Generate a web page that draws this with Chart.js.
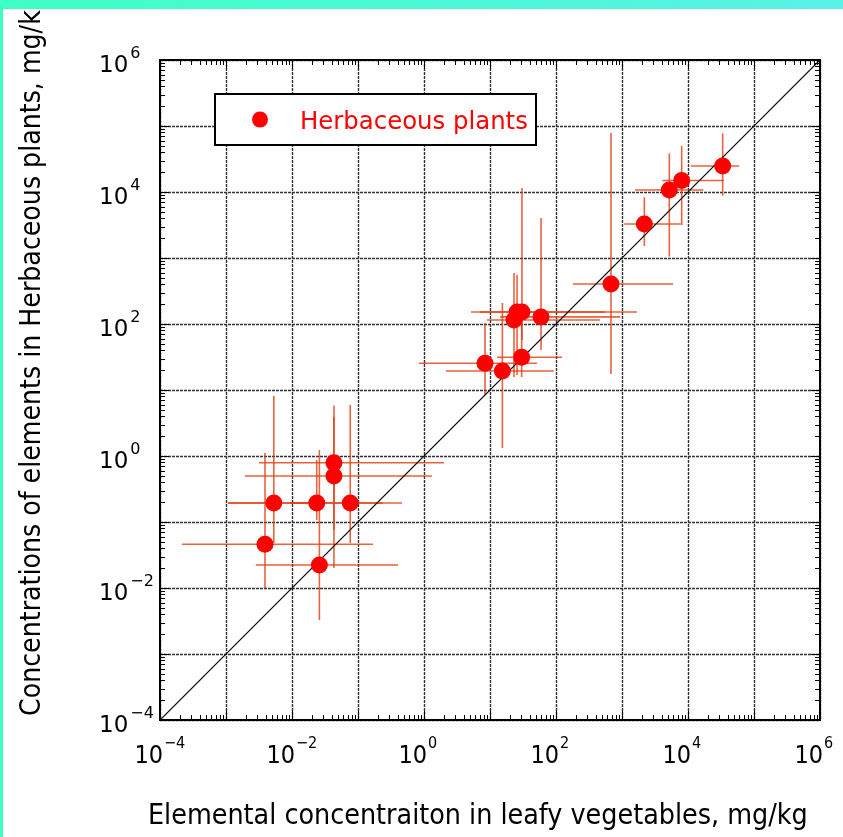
<!DOCTYPE html>
<html>
<head>
<meta charset="utf-8">
<script src="https://cdn.jsdelivr.net/npm/chart.js@4.4.0/dist/chart.umd.min.js"></script>
<style>
  html, body { margin: 0; padding: 0; background: #fff; }
  canvas { display: block; }
</style>
</head>
<body>
<canvas id="myChart" width="843" height="837"></canvas>
<script>
// values, mg/kg
const xVals  = [0.0039, 0.0053, 0.0237, 0.026, 0.0432, 0.0432, 0.0763, 8.4, 15.4, 23.1, 25.7, 30.5, 30.2, 59.3, 681, 2180, 5210, 8020, 33500];
const yVals  = [0.046, 0.194, 0.194, 0.0223, 0.792, 0.498, 0.194, 25.4, 19.4, 115, 152, 152, 31.3, 128, 403, 3280, 10700, 14900, 24800];
const xLow   = [0.000215, 0.00107, 0.00107, 0.00282, 0.00316, 0.00194, 0.00933, 0.84, 2.15, 9.0, 5.15, 7.05, 12.8, 14.2, 181, 1080, 1570, 4080, 11100];
const xHigh  = [0.169, 0.0266, 0.239, 0.404, 2.01, 1.32, 0.464, 51.5, 93, 464, 1690, 553, 123, 933, 5930, 7750, 17100, 35100, 59300];
const yLow   = [0.01, 0.048, 0.107, 0.00327, 0.0201, 0.0757, 0.048, 8.4, 1.32, 15.7, 16.9, 57, 15.7, 40.4, 17.5, 1520, 1050, 3160, 8790];
const yHigh  = [1.11, 8.1, 0.87, 1.23, 5.8, 3.9, 5.93, 104, 208, 593, 553, 11500, 123, 4040, 78400, 8300, 38500, 49800, 77500];

const decades = [1e-4, 1e-3, 1e-2, 1e-1, 1, 1e1, 1e2, 1e3, 1e4, 1e5, 1e6];
const tickValues = [1e-4, 1e-2, 1, 1e2, 1e4, 1e6];
const tickExponents = ['\u22124', '\u22122', '0', '2', '4', '6'];
const lineEnds = [1e-4, 1e6];

const legendLabel = 'Herbaceous plants';
const xTitle = 'Elemental concentraiton in leafy vegetables, mg/kg';
const yTitle = 'Concentrations of elements in Herbaceous plants, mg/kg';

function fitSize(ctx, text, family, width) {
    ctx.font = '20px ' + family;
    return 20 * width / ctx.measureText(text).width;
}

const decor = {
    id: 'decor',
    beforeDraw(chart) {
        const ctx = chart.ctx;
        ctx.save();
        ctx.fillStyle = '#fff';
        ctx.fillRect(0, 0, chart.width, chart.height);
        ctx.restore();
    },
    beforeDatasetsDraw(chart) {
        const { ctx, chartArea: a, scales: { x, y } } = chart;
        ctx.save();
        // dense dotted grid at every decade
        ctx.strokeStyle = '#333';
        ctx.lineWidth = 1.4;
        ctx.setLineDash([3, 1]);
        decades.forEach(function (v) {
            const px = Math.round(x.getPixelForValue(v)) + 0.5;
            const py = Math.round(y.getPixelForValue(v)) + 0.5;
            ctx.beginPath();
            ctx.moveTo(px, a.top); ctx.lineTo(px, a.bottom);
            ctx.moveTo(a.left, py); ctx.lineTo(a.right, py);
            ctx.stroke();
        });
        ctx.setLineDash([]);
        // error bars
        ctx.strokeStyle = 'rgba(226,60,14,0.8)';
        ctx.lineWidth = 1.6;
        for (let i = 0; i < xVals.length; i++) {
            const px = x.getPixelForValue(xVals[i]);
            const py = y.getPixelForValue(yVals[i]);
            ctx.beginPath();
            ctx.moveTo(x.getPixelForValue(xLow[i]), py);
            ctx.lineTo(x.getPixelForValue(xHigh[i]), py);
            ctx.stroke();
            ctx.beginPath();
            ctx.moveTo(px, y.getPixelForValue(yLow[i]));
            ctx.lineTo(px, y.getPixelForValue(yHigh[i]));
            ctx.stroke();
        }
        ctx.restore();
    },
    afterDraw(chart) {
        const { ctx, chartArea: a, scales: { x, y } } = chart;
        ctx.save();

        // frame
        ctx.strokeStyle = '#000';
        ctx.lineWidth = 2;
        ctx.strokeRect(a.left, a.top, a.right - a.left, a.bottom - a.top);

        // inward ticks on all four sides
        ctx.lineWidth = 1;
        for (let d = 0; d < decades.length; d++) {
            for (let k = 1; k <= 9; k++) {
                if (d === decades.length - 1 && k > 1) break;
                const v = decades[d] * k;
                const len = k === 1 ? 9 : 5;
                const px = Math.round(x.getPixelForValue(v)) + 0.5;
                const py = Math.round(y.getPixelForValue(v)) + 0.5;
                ctx.beginPath();
                ctx.moveTo(px, a.bottom); ctx.lineTo(px, a.bottom - len);
                ctx.moveTo(px, a.top); ctx.lineTo(px, a.top + len);
                ctx.moveTo(a.left, py); ctx.lineTo(a.left + len, py);
                ctx.moveTo(a.right, py); ctx.lineTo(a.right - len, py);
                ctx.stroke();
            }
        }

        // tick labels 10^n
        ctx.fillStyle = '#000';
        ctx.textBaseline = 'alphabetic';
        tickValues.forEach(function (v, i) {
            const px = x.getPixelForValue(v);
            ctx.font = '25px "DejaVu Sans Condensed", "DejaVu Sans", sans-serif';
            ctx.textAlign = 'right';
            ctx.fillText('10', px + 3, a.bottom + 43);
            ctx.font = '16px "DejaVu Sans Condensed", "DejaVu Sans", sans-serif';
            ctx.textAlign = 'left';
            ctx.fillText(tickExponents[i], px + 4, a.bottom + 28);

            const py = y.getPixelForValue(v);
            ctx.font = '23px "DejaVu Sans", sans-serif';
            ctx.textAlign = 'left';
            ctx.fillText('10', 99, py + 12);
            const w = ctx.measureText('10').width;
            ctx.font = '16px "DejaVu Sans", sans-serif';
            ctx.fillText(tickExponents[i], 99 + w + 2, py - 2);
        });

        // axis titles
        const fam = '"DejaVu Sans Condensed", Roboto, sans-serif';
        const xs = fitSize(ctx, xTitle, fam, 660);
        ctx.font = xs + 'px ' + fam;
        ctx.textAlign = 'left';
        ctx.fillText(xTitle, 148, 824);
        const ys = fitSize(ctx, yTitle, fam, 722);
        ctx.save();
        ctx.translate(40, 716);
        ctx.rotate(-Math.PI / 2);
        ctx.font = ys + 'px ' + fam;
        ctx.textAlign = 'left';
        ctx.fillText(yTitle, 0, 0);
        ctx.restore();

        // legend
        ctx.fillStyle = '#fff';
        ctx.fillRect(215, 94, 321, 51);
        ctx.strokeStyle = '#000';
        ctx.lineWidth = 2;
        ctx.strokeRect(215, 94, 321, 51);
        ctx.fillStyle = '#ff0000';
        ctx.beginPath();
        ctx.arc(260, 119.5, 8, 0, Math.PI * 2);
        ctx.fill();
        const ls = fitSize(ctx, legendLabel, '"DejaVu Sans", sans-serif', 228);
        ctx.font = ls + 'px "DejaVu Sans", sans-serif';
        ctx.fillText(legendLabel, 300, 129);

        // teal edges of the figure
        const g = ctx.createLinearGradient(0, 0, chart.width, 0);
        g.addColorStop(0, 'rgb(62,255,196)');
        g.addColorStop(1, 'rgb(88,242,230)');
        ctx.fillStyle = g;
        ctx.fillRect(0, 0, chart.width, 9);
        ctx.fillStyle = 'rgb(62,255,196)';
        ctx.fillRect(0, 0, 3, chart.height);

        ctx.restore();
    }
};

const ctx = document.getElementById('myChart').getContext('2d');
const myChart = new Chart(ctx, {
    type: 'scatter',
    data: {
        datasets: [{
            label: legendLabel,
            data: xVals.map(function (v, i) { return { x: v, y: yVals[i] }; }),
            backgroundColor: '#ff0000',
            borderWidth: 0,
            pointRadius: 8.5,
            pointHoverRadius: 8.5,
            order: 0
        }, {
            type: 'line',
            label: '1:1',
            data: lineEnds.map(function (v) { return { x: v, y: v }; }),
            borderColor: '#000',
            borderWidth: 1.2,
            pointRadius: 0,
            fill: false,
            order: 1
        }]
    },
    options: {
        responsive: false,
        animation: false,
        layout: { padding: { left: 160, right: 23, top: 60, bottom: 117 } },
        plugins: { legend: { display: false }, tooltip: { enabled: false } },
        scales: {
            x: { type: 'logarithmic', min: 1e-4, max: 1e6, display: false },
            y: { type: 'logarithmic', min: 1e-4, max: 1e6, display: false }
        }
    },
    plugins: [decor]
});
</script>
</body>
</html>
